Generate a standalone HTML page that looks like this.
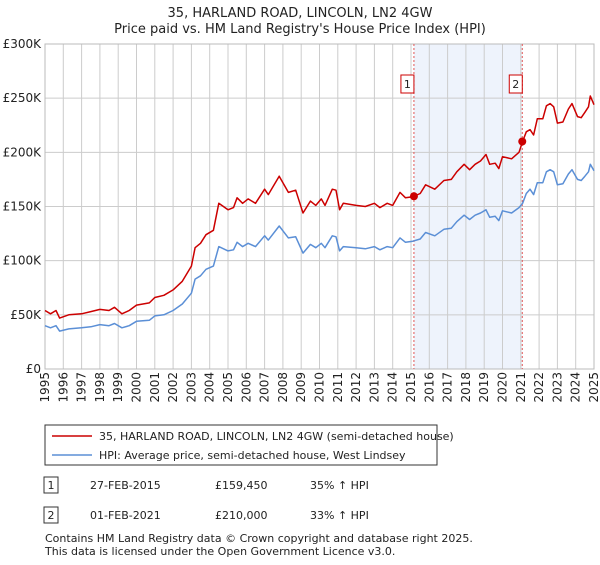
<!DOCTYPE html>
<html><head><meta charset="utf-8"><style>
body{margin:0;background:#fff;font-family:"Liberation Sans","DejaVu Sans",sans-serif;}
svg text{font-family:"DejaVu Sans","Liberation Sans",sans-serif;fill:#222;}
</style></head><body>
<svg id="chart" width="600" height="560" xmlns="http://www.w3.org/2000/svg">
<text x="300" y="17" text-anchor="middle" font-size="13">35, HARLAND ROAD, LINCOLN, LN2 4GW</text>
<text x="300" y="33" text-anchor="middle" font-size="13">Price paid vs. HM Land Registry's House Price Index (HPI)</text>
<g id="plot"></g>
<g>
<rect x="45" y="425" width="392" height="40" fill="#fff" stroke="#333"/>
<line x1="52" y1="436" x2="92" y2="436" stroke="#cc0000" stroke-width="1.5"/>
<text x="99" y="440" font-size="11">35, HARLAND ROAD, LINCOLN, LN2 4GW (semi-detached house)</text>
<line x1="52" y1="455" x2="92" y2="455" stroke="#5b8fd6" stroke-width="1.5"/>
<text x="99" y="459" font-size="11">HPI: Average price, semi-detached house, West Lindsey</text>
</g>
<g>
<rect x="44" y="477" width="14" height="16" fill="#fff" stroke="#333"/><text x="51" y="489" font-size="11" text-anchor="middle">1</text>
<text x="90" y="489" font-size="11">27-FEB-2015</text><text x="215" y="489" font-size="11">£159,450</text><text x="310" y="489" font-size="11">35% ↑ HPI</text>
</g>
<g>
<rect x="44" y="507" width="14" height="16" fill="#fff" stroke="#333"/><text x="51" y="519" font-size="11" text-anchor="middle">2</text>
<text x="90" y="519" font-size="11">01-FEB-2021</text><text x="215" y="519" font-size="11">£210,000</text><text x="310" y="519" font-size="11">33% ↑ HPI</text>
</g>
<text x="45" y="542" font-size="11" fill="#444">Contains HM Land Registry data © Crown copyright and database right 2025.</text>
<text x="45" y="555" font-size="11" fill="#444">This data is licensed under the Open Government Licence v3.0.</text>
</svg>
<script>
const years=[1995.0,1995.3,1995.6,1995.8,1996.3,1997,1997.5,1998,1998.5,1998.8,1999.2,1999.6,2000,2000.7,2001,2001.5,2002,2002.5,2003,2003.2,2003.5,2003.8,2004.2,2004.5,2005,2005.3,2005.5,2005.8,2006.1,2006.5,2007,2007.2,2007.8,2008.3,2008.7,2009.1,2009.5,2009.8,2010.1,2010.3,2010.7,2010.9,2011.1,2011.3,2012,2012.5,2013,2013.3,2013.7,2014,2014.4,2014.7,2015.1,2015.5,2015.8,2016.3,2016.8,2017.2,2017.5,2017.9,2018.2,2018.5,2018.8,2019.1,2019.3,2019.6,2019.8,2020,2020.5,2020.9,2021.1,2021.3,2021.5,2021.7,2021.9,2022.2,2022.4,2022.6,2022.8,2023,2023.3,2023.6,2023.8,2024.1,2024.3,2024.5,2024.7,2024.8,2025];
const hpi=[40,38,40,35,37,38,39,41,40,42,38,40,44,45,49,50,54,60,70,83,86,92,95,113,109,110,117,113,116,113,123,119,132,121,122,107,115,112,116,112,123,122,109,113,112,111,113,110,113,112,121,117,118,120,126,123,129,130,136,142,138,142,144,147,140,141,137,146,144,149,153,162,166,161,172,172,182,184,182,170,171,180,184,175,174,178,182,189,183];
const price=[54,51,54,47,50,51,53,55,54,57,51,54,59,61,66,68,73,81,95,112,116,124,128,153,147,149,158,153,157,153,166,161,178,163,165,144,155,151,157,151,166,165,147,153,151,150,153,149,153,151,163,158,159,162,170,166,174,175,182,189,184,189,192,198,189,190,185,196,194,200,210,219,221,216,231,231,243,245,242,227,228,240,245,233,232,237,242,252,244];
const yTicks=[0,50,100,150,200,250,300];
const yTickLabels=["£0","£50K","£100K","£150K","£200K","£250K","£300K"];
const sales=[{n:"1",year:2015.16,value:159.45},{n:"2",year:2021.08,value:210}];
const X0=45,X1=594,Y0=369,Y1=44;
const xs=y=>X0+(y-1995)/(2025-1995)*(X1-X0);
const ys=v=>Y0-v/300*(Y0-Y1);
const NS="http://www.w3.org/2000/svg";
const plot=document.getElementById('plot');
function mk(t,a,p){const e=document.createElementNS(NS,t);for(const k in a)e.setAttribute(k,a[k]);(p||plot).appendChild(e);return e;}
// shaded region
let sh=mk('rect',{x:xs(sales[0].year),y:Y1,width:xs(sales[1].year)-xs(sales[0].year),height:Y0-Y1,fill:'#eef3fc'});


// grid
for(let yr=1995;yr<=2025;yr++){
 const g=mk('line',{x1:xs(yr),x2:xs(yr),y1:Y1,y2:Y0,stroke:'#ccc','stroke-width':1});
 
 
 const t=mk('text',{x:0,y:0,'font-size':12,'text-anchor':'end',transform:`translate(${xs(yr)+4},${Y0+3}) rotate(-90)`});
 
 
 t.textContent=yr;
}
yTicks.forEach((v,i)=>{
 const g=mk('line',{x1:X0,x2:X1,y1:ys(v),y2:ys(v),stroke:'#ccc','stroke-width':1});
 
 
 const t=mk('text',{x:X0-4,y:ys(v)+4,'font-size':12,'text-anchor':'end'});
 
 
 t.textContent=yTickLabels[i];
});
let ax=mk('rect',{x:X0,y:Y1,width:X1-X0,height:Y0-Y1,fill:'none',stroke:'#bbb'});


sales.forEach(s=>{
 const l=mk('line',{x1:xs(s.year),x2:xs(s.year),y1:Y1,y2:Y0,stroke:'#e05555','stroke-dasharray':'2,2','stroke-width':1});
 
 
 const b=mk('rect',{x:xs(s.year)-13,y:75,width:13,height:18,fill:'#fff',stroke:'#cc0000'});
 
 
 const t=mk('text',{x:xs(s.year)-6.5,y:88,'font-size':11,'text-anchor':'middle'});
 
 
 t.textContent=s.n;
});
function line(arr,color,name){
 const d=arr.map((v,i)=>(i?'L':'M')+xs(years[i]).toFixed(1)+','+ys(v).toFixed(1)).join('');
 const p=mk('path',{d:d,fill:'none',stroke:color,'stroke-width':1.5,'stroke-linejoin':'round'});
 
 
}
line(hpi,'#5b8fd6','hpi-line');
line(price,'#cc0000','price-line');
sales.forEach(s=>{
 const c=mk('circle',{cx:xs(s.year),cy:ys(s.value),r:4,fill:'#cc0000'});
 
 
});
</script>
</body></html>
